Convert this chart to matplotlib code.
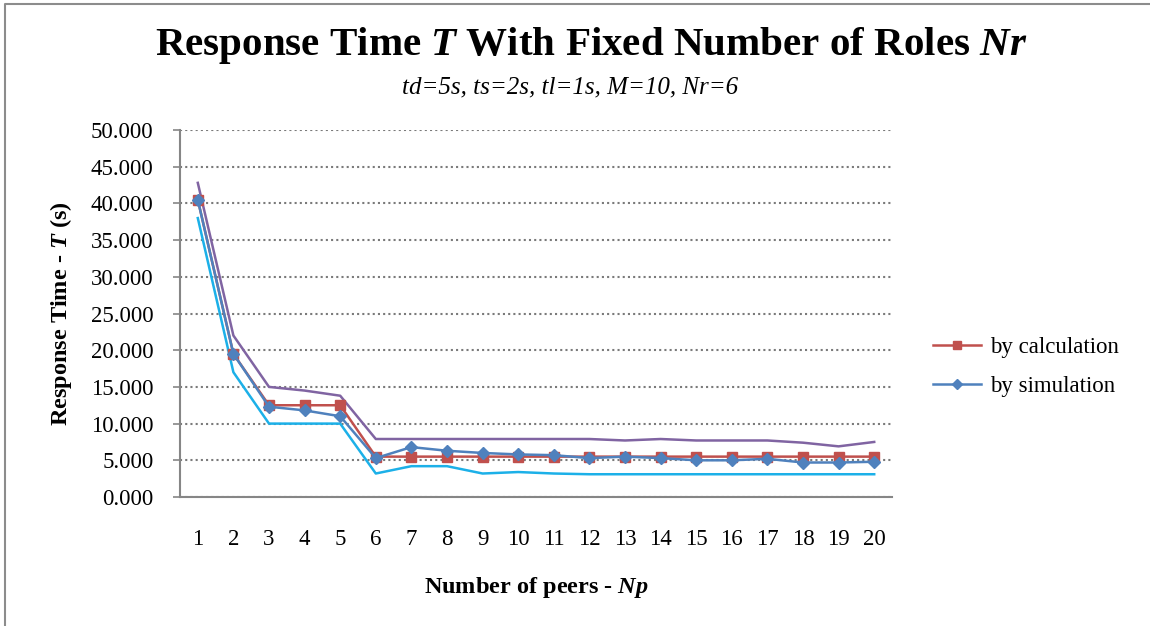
import matplotlib
matplotlib.use("Agg")
import matplotlib.pyplot as plt
from matplotlib.lines import Line2D

# Data
peers = list(range(1, 21))
by_calculation = [40.5, 19.5, 12.5, 12.5, 12.5, 5.5, 5.5, 5.5, 5.5, 5.5,
                  5.5, 5.5, 5.5, 5.5, 5.5, 5.5, 5.5, 5.5, 5.5, 5.5]
by_simulation = [40.5, 19.5, 12.3, 11.8, 11.0, 5.3, 6.8, 6.3, 6.0, 5.8,
                 5.7, 5.3, 5.5, 5.3, 5.0, 5.0, 5.2, 4.7, 4.7, 4.8]
upper_bound = [42.8, 22.0, 15.0, 14.5, 13.8, 7.9, 7.9, 7.9, 7.9, 7.9,
               7.9, 7.9, 7.7, 7.9, 7.7, 7.7, 7.7, 7.4, 6.9, 7.5]
lower_bound = [38.0, 17.0, 10.0, 10.0, 10.0, 3.2, 4.2, 4.2, 3.2, 3.4,
               3.2, 3.1, 3.1, 3.1, 3.1, 3.1, 3.1, 3.1, 3.1, 3.1]
y_ticks = [0, 5, 10, 15, 20, 25, 30, 35, 40, 45, 50]

plt.rcParams['font.family'] = ['Liberation Serif', 'DejaVu Serif']
plt.rcParams['mathtext.fontset'] = 'custom'
plt.rcParams['mathtext.rm'] = 'Liberation Serif'
plt.rcParams['mathtext.it'] = 'Liberation Serif:italic'
plt.rcParams['mathtext.bf'] = 'Liberation Serif:bold'
plt.rcParams['mathtext.bfit'] = 'Liberation Serif:bold:italic'

W, H = 1150, 626
fig = plt.figure(figsize=(W / 100, H / 100), dpi=100)
ax = fig.add_axes([180 / W, 1 - 497 / H, (892 - 180) / W, (497 - 130) / H])

# Chart frame (left and top edges visible)
fig.add_artist(Line2D([5 / W, 5 / W, 1.0], [0.0, 1 - 4 / H, 1 - 4 / H],
                      transform=fig.transFigure, color='#8c8c8c', lw=1.5))

red = '#C0504D'
blue = '#4F81BD'
purple = '#8064A2'
cyan = '#1CB0E8'

ax.plot(peers, upper_bound, color=purple, lw=1.8, zorder=3)
ax.plot(peers, lower_bound, color=cyan, lw=1.8, zorder=3)
ax.plot(peers, by_calculation, color=red, lw=1.8, marker='s', markersize=6.5,
        label='by calculation', zorder=4)
ax.plot(peers, by_simulation, color=blue, lw=1.8, marker='D', markersize=6.5,
        label='by simulation', zorder=5)

ax.set_xlim(0.5, 20.5)
ax.set_ylim(0, 50)
ax.set_xticks(peers)
ax.set_xticklabels([str(p) for p in peers])
ax.set_yticks(y_ticks)
ax.set_yticklabels([f'{v:.3f}' for v in y_ticks])

ax.yaxis.grid(True, linestyle=(0, (1, 1.5)), color='#7a7a7a', lw=1.5)
ax.set_axisbelow(True)
for side in ['top', 'right']:
    ax.spines[side].set_visible(False)
for side in ['left', 'bottom']:
    ax.spines[side].set_color('#868686')
    ax.spines[side].set_linewidth(1.5)

ax.tick_params(axis='y', length=5, width=1.2, color='#868686', pad=14, labelsize=16.5)
ax.tick_params(axis='x', length=0, pad=23, labelsize=16.5)

ax.set_xlabel('Number of peers - $\\mathbfit{Np}$', fontsize=17.5, fontweight='bold', labelpad=18)
ax.set_ylabel('Response Time - $\\mathbfit{T}$ (s)', fontsize=17.5, fontweight='bold', labelpad=12)

fig.text(591 / W, 1 - 45 / H, 'Response Time $\\mathbfit{T}$ With Fixed Number of Roles $\\mathbfit{Nr}$',
         ha='center', va='center', fontsize=29.5, fontweight='bold')
fig.text(570 / W, 1 - 87 / H, 'td=5s, ts=2s, tl=1s, M=10, Nr=6',
         ha='center', va='center', fontsize=18, style='italic')

ax.legend(loc='center left', bbox_to_anchor=(912 / W, 1 - 367 / H),
          bbox_transform=fig.transFigure, frameon=False, fontsize=16.5,
          handlelength=2.1, handletextpad=0.4, labelspacing=0.75, markerscale=0.8)

fig.savefig('out.png', dpi=100)
